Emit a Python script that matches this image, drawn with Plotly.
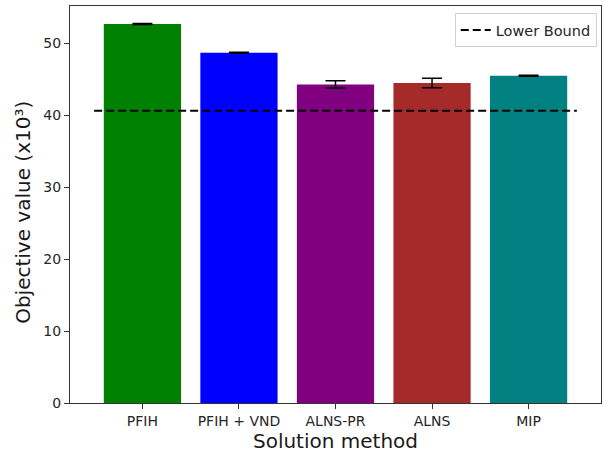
import plotly.graph_objects as go

categories = ["PFIH", "PFIH + VND", "ALNS-PR", "ALNS", "MIP"]
values = [52.7, 48.7, 44.3, 44.5, 45.5]
errors = [0.08, 0.08, 0.5, 0.65, 0.08]
colors = ["#008000", "#0000ff", "#800080", "#a52a2a", "#008080"]
lower_bound = 40.65
y_ticks = [0, 10, 20, 30, 40, 50]

xs = list(range(len(categories)))

fig = go.Figure()
fig.add_trace(go.Bar(
    x=xs, y=values, width=0.8,
    marker=dict(color=colors, line=dict(width=0)),
    error_y=dict(type="data", array=errors, color="black", thickness=1.5, width=10),
    showlegend=False,
))
fig.add_trace(go.Scatter(
    x=[xs[0] - 0.5, xs[-1] + 0.5], y=[lower_bound, lower_bound],
    mode="lines", name="Lower Bound",
    line=dict(color="black", width=2, dash="8px,4px"),
))

axis_common = dict(
    showline=True, linecolor="#333333", linewidth=1, mirror=True,
    ticks="outside", ticklen=5, tickcolor="#333333",
    showgrid=False, zeroline=False, automargin=False,
    tickfont=dict(family="DejaVu Sans", size=14, color="#262626"),
)
fig.update_xaxes(
    range=[-0.75, len(categories) - 0.25],
    tickvals=xs, ticktext=categories,
    title=dict(text="Solution method", font=dict(family="DejaVu Sans", size=20, color="#1a1a1a"), standoff=4),
    **axis_common,
)
fig.update_yaxes(
    range=[0, 55.2], tickvals=y_ticks,
    **axis_common,
)
fig.add_annotation(
    text="Objective value (x10³)", textangle=-90,
    xref="paper", yref="paper", x=-0.0885, y=0.479,
    xanchor="center", yanchor="middle", showarrow=False,
    font=dict(family="DejaVu Sans", size=20, color="#1a1a1a"),
)
fig.update_layout(
    width=604, height=458,
    margin=dict(l=70, r=3, t=6, b=55, autoexpand=False),
    plot_bgcolor="white", paper_bgcolor="white",
    font=dict(family="DejaVu Sans"),
    legend=dict(
        x=0.992, y=0.982, xanchor="right", yanchor="top",
        bgcolor="white", bordercolor="#d0d0d0", borderwidth=1,
        font=dict(family="DejaVu Sans", size=14.5, color="#262626"),
    ),
)
fig.write_html(
    "out.html",
    config={"displayModeBar": False},
    post_script="document.body.style.margin='0';document.body.style.overflow='hidden';",
)
